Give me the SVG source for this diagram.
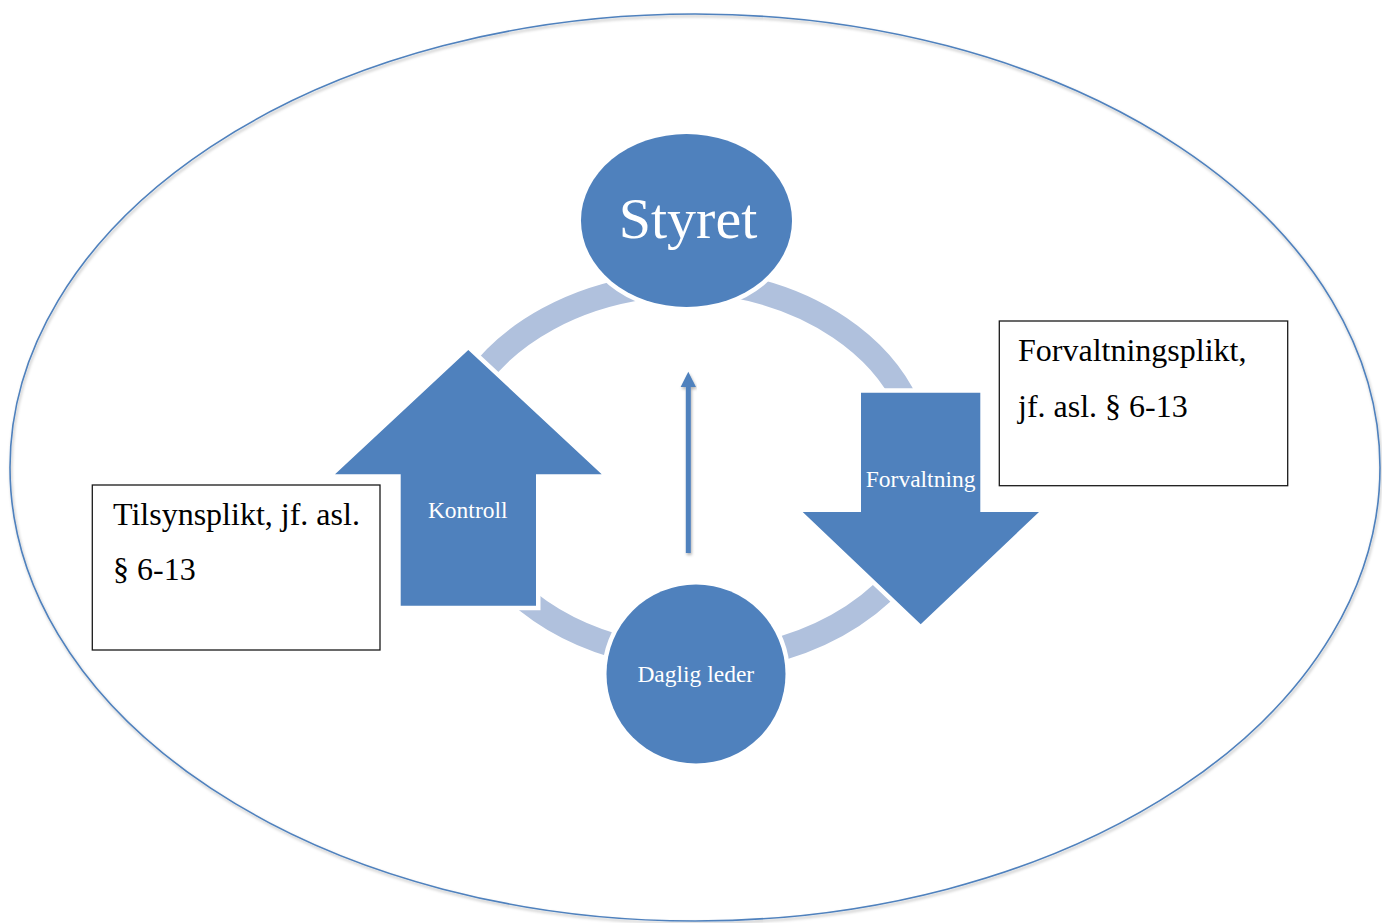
<svg xmlns="http://www.w3.org/2000/svg" width="1382" height="923" viewBox="0 0 1382 923">
  <style>
    .frame { fill: none; stroke: #4F81BD; stroke-width: 1.6; }
    .ring { fill: none; stroke: #B0C1DD; stroke-width: 24; stroke-linecap: butt; }
    .shape { fill: #4F81BD; stroke: #FFFFFF; stroke-width: 9; paint-order: stroke; stroke-linejoin: miter; }
    .flow { fill: #4F81BD; }
    .label { fill: #FFFFFF; font-family: "Liberation Serif", "Times New Roman", serif; text-anchor: middle; }
    .box { fill: #FFFFFF; stroke: #1A1A1A; stroke-width: 1.3; }
    .note { fill: #000000; font-family: "Liberation Serif", "Times New Roman", serif; font-size: 32px; }
  </style>
  <defs>
    <filter id="softShadow" x="-5%" y="-5%" width="110%" height="110%">
      <feDropShadow dx="1" dy="2" stdDeviation="1.5" flood-color="#000000" flood-opacity="0.3"/>
    </filter>
  </defs>

  <rect width="1382" height="923" fill="#FFFFFF"/>

  <!-- outer boundary -->
  <g id="frame">
    <ellipse class="frame" cx="695" cy="467.5" rx="685" ry="453.5" filter="url(#softShadow)"/>
  </g>

  <!-- cycle ring segments and the central upward arrow -->
  <g id="connectors">
    <path class="ring" d="M477.9,377.8 A245,184 0 0 1 644.4,287.4"/>
    <path class="ring" d="M732.2,285.4 A245,184 0 0 1 907.1,403.6"/>
    <path class="ring" d="M894.6,580.2 A245,184 0 0 1 762.1,653.4"/>
    <path class="ring" d="M630.5,650.1 A245,184 0 0 1 515.9,591.7"/>
    <g filter="url(#softShadow)">
      <rect class="flow" x="685.8" y="384" width="5" height="169"/>
      <polygon class="flow" points="680.6,387 696,387 688.3,371.7"/>
    </g>
  </g>

  <!-- Kontroll: upward block arrow -->
  <g id="kontroll">
    <polygon class="shape" points="468.3,350 601.7,474.3 536,474.3 536,605.7 400.7,605.7 400.7,474.3 335,474.3"/>
    <text class="label" x="467.7" y="517.7" font-size="23.5">Kontroll</text>
  </g>

  <!-- Forvaltning: downward block arrow -->
  <g id="forvaltning">
    <polygon class="shape" points="861,392.7 980.3,392.7 980.3,512 1039,512 920.7,624.3 802.7,512 861,512"/>
    <text class="label" x="920.6" y="486.7" font-size="23.5">Forvaltning</text>
  </g>

  <!-- Styret -->
  <g id="styret">
    <ellipse class="shape" cx="686.5" cy="220.5" rx="105.5" ry="86.5"/>
    <text class="label" x="688" y="238.3" font-size="58">Styret</text>
  </g>

  <!-- Daglig leder -->
  <g id="daglig-leder">
    <circle class="shape" cx="696" cy="674" r="89.5"/>
    <text class="label" x="695.8" y="681.7" font-size="23.5">Daglig leder</text>
  </g>

  <!-- duty notes -->
  <g id="tilsynsplikt">
    <rect class="box" x="92.3" y="485" width="287.7" height="165"/>
    <text class="note" x="113" y="525">Tilsynsplikt, jf. asl.</text>
    <text class="note" x="113" y="580">§ 6-13</text>
  </g>

  <g id="forvaltningsplikt">
    <rect class="box" x="999.3" y="321" width="288.4" height="164.7"/>
    <text class="note" x="1018" y="361">Forvaltningsplikt,</text>
    <text class="note" x="1018" y="417.3">jf. asl. § 6-13</text>
  </g>
</svg>
